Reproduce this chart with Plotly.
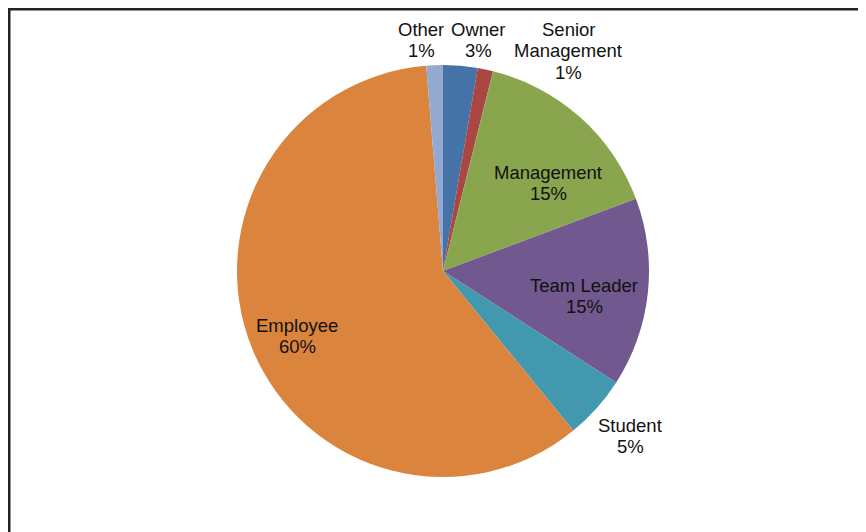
import plotly.graph_objects as go

# --- Role breakdown (percent of respondents) ---
roles = ["Owner", "Senior Management", "Management", "Team Leader", "Student", "Employee", "Other"]
shares = [2.7, 1.2, 15.4, 14.8, 5.0, 59.6, 1.3]
colors = ["#4572A7", "#AA4643", "#89A54E", "#71588F", "#4198AF", "#DB843D", "#93A9CF"]

# label text lines and where each label block is centred (pixels), like the Excel original
label_lines = {
    "Owner": ["Owner"],
    "Senior Management": ["Senior", "Management"],
    "Management": ["Management"],
    "Team Leader": ["Team Leader"],
    "Student": ["Student"],
    "Employee": ["Employee"],
    "Other": ["Other"],
}
label_pos = {
    "Owner": (478, 30),
    "Senior Management": (568, 30),
    "Management": (548, 172),
    "Team Leader": (584, 285),
    "Student": (630, 425),
    "Employee": (297, 325),
    "Other": (421, 30),
}

W, H = 866, 532
OFF = 8  # page body margin shifts the figure by 8px
FONT = dict(family="Liberation Sans, Arial, sans-serif", size=18.5, color="#111111")
LINE_H = 21


def px_x(x):
    return (x - OFF) / W


def px_y(y):
    return 1 - (y - OFF) / H


fig = go.Figure()

fig.add_trace(
    go.Pie(
        labels=roles,
        values=shares,
        sort=False,
        direction="clockwise",
        rotation=0,
        marker=dict(colors=colors, line=dict(width=0)),
        textinfo="none",
        showlegend=False,
        hoverinfo="label+percent",
        domain=dict(x=[px_x(237), px_x(649)], y=[px_y(477), px_y(65)]),
    )
)

total = sum(shares)
for role, share in zip(roles, shares):
    lines = label_lines[role] + [f"{round(share / total * 100)}%"]
    x0, y0 = label_pos[role]
    for i, line in enumerate(lines):
        fig.add_annotation(
            x=px_x(x0), y=px_y(y0 + i * LINE_H),
            xref="paper", yref="paper",
            text=line, showarrow=False,
            xanchor="center", yanchor="middle",
            font=FONT,
        )

# chart frame (only top/left edges fall inside the picture)
fig.add_shape(
    type="rect", xref="paper", yref="paper",
    x0=px_x(9), y0=-0.05, x1=1.05, y1=px_y(9),
    line=dict(color="#222222", width=3),
)

fig.update_layout(
    width=W,
    height=H,
    margin=dict(l=0, r=0, t=0, b=0),
    paper_bgcolor="white",
    plot_bgcolor="white",
)

fig.write_html("out.html")
